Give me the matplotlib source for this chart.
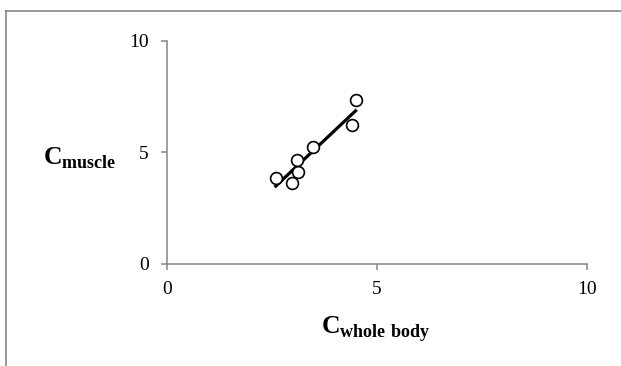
import numpy as np
import matplotlib
matplotlib.use('Agg')
from matplotlib import pyplot as plt
from matplotlib.lines import Line2D

# data
c_whole_body = [2.59, 2.98, 3.11, 3.09, 3.48, 4.40, 4.49]
c_muscle = [3.84, 3.65, 4.14, 4.66, 5.26, 6.23, 7.35]
ticks = [0, 5, 10]

plt.rcParams['font.family'] = ['Liberation Serif', 'DejaVu Serif']
plt.rcParams['mathtext.fontset'] = 'custom'
plt.rcParams['mathtext.rm'] = 'Liberation Serif'
plt.rcParams['mathtext.bf'] = 'Liberation Serif:bold'

grey = '#868686'
fig = plt.figure(figsize=(6.21, 3.66), dpi=100)
ax = fig.add_axes([0.2689, 0.2787, 0.9452 - 0.2689, 0.888 - 0.2787])

ax.plot(c_whole_body, c_muscle, 'o', mfc='white', mec='black', ms=8.5, mew=1.2, zorder=3)

# linear trend line
k, b = np.polyfit(c_whole_body, c_muscle, 1)
xs = np.array([min(c_whole_body), max(c_whole_body)])
ax.plot(xs, k * xs + b, color='black', lw=2.3, zorder=2)

ax.set_xlim(0, 10)
ax.set_ylim(0, 10)
ax.set_xticks(ticks)
ax.set_yticks(ticks)
ax.spines['top'].set_visible(False)
ax.spines['right'].set_visible(False)
for s in ['left', 'bottom']:
    ax.spines[s].set_color(grey)
    ax.spines[s].set_linewidth(1.1)
ax.tick_params(direction='out', length=4.5, width=1.1, color=grey, labelsize=14, labelcolor='black')
ax.tick_params(axis='y', pad=8.5)
ax.tick_params(axis='x', pad=8)

fig.text(376 / 621, 1 - 333 / 366, r'$\mathbf{C}_{\mathbf{whole\ body}}$', fontsize=18.5,
         ha='center', va='baseline')
fig.text(43 / 621, 1 - 164 / 366, r'$\mathbf{C}_{\mathbf{muscle}}$', fontsize=18.5,
         ha='left', va='baseline')

# outer frame (top and left only visible)
fig.add_artist(Line2D([6 / 621, 1], [1 - 11 / 366, 1 - 11 / 366], color=grey, lw=1.2, transform=fig.transFigure))
fig.add_artist(Line2D([6 / 621, 6 / 621], [0, 1 - 11 / 366], color=grey, lw=1.2, transform=fig.transFigure))

fig.savefig('out.png', dpi=100)
